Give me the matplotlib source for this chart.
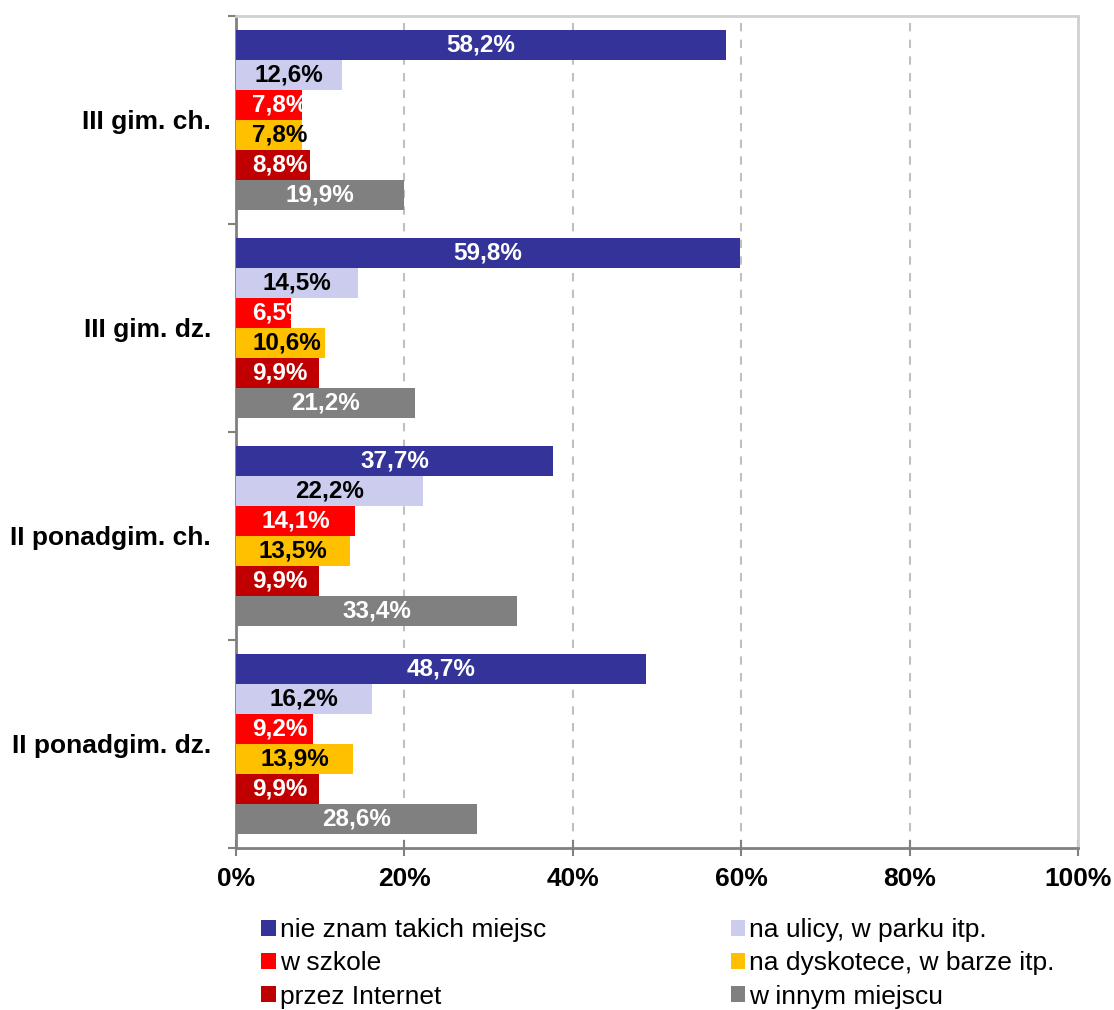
import numpy as np
import matplotlib.pyplot as plt
from matplotlib.patches import Patch, Rectangle

plt.rcParams['font.family'] = ['Liberation Sans', 'DejaVu Sans']

# Data
groups = ['III gim. ch.', 'III gim. dz.', 'II ponadgim. ch.', 'II ponadgim. dz.']
series = ['nie znam takich miejsc', 'na ulicy, w parku itp.', 'w szkole',
          'na dyskotece, w barze itp.', 'przez Internet', 'w innym miejscu']
nie_znam = [58.2, 59.8, 37.7, 48.7]
na_ulicy = [12.6, 14.5, 22.2, 16.2]
w_szkole = [7.8, 6.5, 14.1, 9.2]
dyskoteka = [7.8, 10.6, 13.5, 13.9]
internet = [8.8, 9.9, 9.9, 9.9]
inne = [19.9, 21.2, 33.4, 28.6]
values = [nie_znam, na_ulicy, w_szkole, dyskoteka, internet, inne]

colors = ['#333399', '#ccccee', '#ff0000', '#ffc000', '#c00000', '#808080']
label_colors = ['white', 'black', 'white', 'black', 'white', 'white']

fig = plt.figure(figsize=(11.14, 10.10), dpi=100)
ax = fig.add_axes([236/1114, 1 - 848/1010, (1078-236)/1114, (848-16)/1010])

n = len(groups)
bh = 30/208
centers = np.arange(n)[::-1] + 0.5  # first group on top

ax.set_xlim(0, 100)
ax.set_ylim(0, n)

texts = []
for k, vals in enumerate(values):
    y = centers + (2.5 - k) * bh
    ax.barh(y, vals, height=bh, color=colors[k], edgecolor='none', zorder=3)
    for yi, v in zip(y, vals):
        t = ax.text(v / 2, yi, ('%.1f%%' % v).replace('.', ','), ha='center', va='center',
                    fontsize=17.5, fontweight='bold', color=label_colors[k], zorder=4)
        texts.append((t, yi, v))

ax.set_xticks(np.arange(0, 101, 20))
ax.set_xticklabels(['%d%%' % t for t in range(0, 101, 20)], fontsize=19, fontweight='bold')
ax.set_yticks(np.arange(0, n + 1))
ax.set_yticklabels([])
ax.set_yticks(centers, minor=True)
ax.set_yticklabels(groups, minor=True, fontsize=19, fontweight='bold')
ax.tick_params(axis='y', which='minor', length=0, pad=18)
ax.tick_params(axis='y', which='major', length=6, color='#808080', width=1.5)
ax.tick_params(axis='x', direction='inout', length=12, color='#808080', width=1.5, pad=8)

for x in [20, 40, 60, 80]:
    ax.axvline(x, color='#c0c0c0', linestyle=(0, (4, 4)), linewidth=1.5, zorder=1)

for s in ['left', 'bottom']:
    ax.spines[s].set_color('#808080')
    ax.spines[s].set_linewidth(2)
for s in ['top', 'right']:
    ax.spines[s].set_color('#d0d0d0')
    ax.spines[s].set_linewidth(2)

# short bars: label starts a bit inside the bar and gets cut just past its end
fig.canvas.draw()
r = fig.canvas.get_renderer()
inv = ax.transData.inverted()
for t, yi, v in texts:
    w = t.get_window_extent(r).width
    x0 = ax.transData.transform((0, yi))[0]
    xc = ax.transData.transform((v / 2, yi))[0]
    left = max(xc - w / 2, x0 + 16)
    t.set_x(inv.transform((left, 0))[0])
    t.set_ha('left')
    xend = ax.transData.transform((v, yi))[0] + 3
    clip = Rectangle((0, yi - bh), inv.transform((xend, 0))[0], 2 * bh, transform=ax.transData)
    t.set_clip_path(clip)

order = [0, 2, 4, 1, 3, 5]
handles = [Patch(facecolor=colors[i], edgecolor='none') for i in order]
labels = [series[i] for i in order]
fig.legend(handles, labels, ncol=2, loc='upper left', bbox_to_anchor=(248/1114, 1 - 905/1010),
           frameon=False, fontsize=19, handlelength=0.55, handleheight=0.55,
           handletextpad=0.15, columnspacing=7.0, labelspacing=0.35, borderpad=0)

fig.savefig('out.png', dpi=100)
